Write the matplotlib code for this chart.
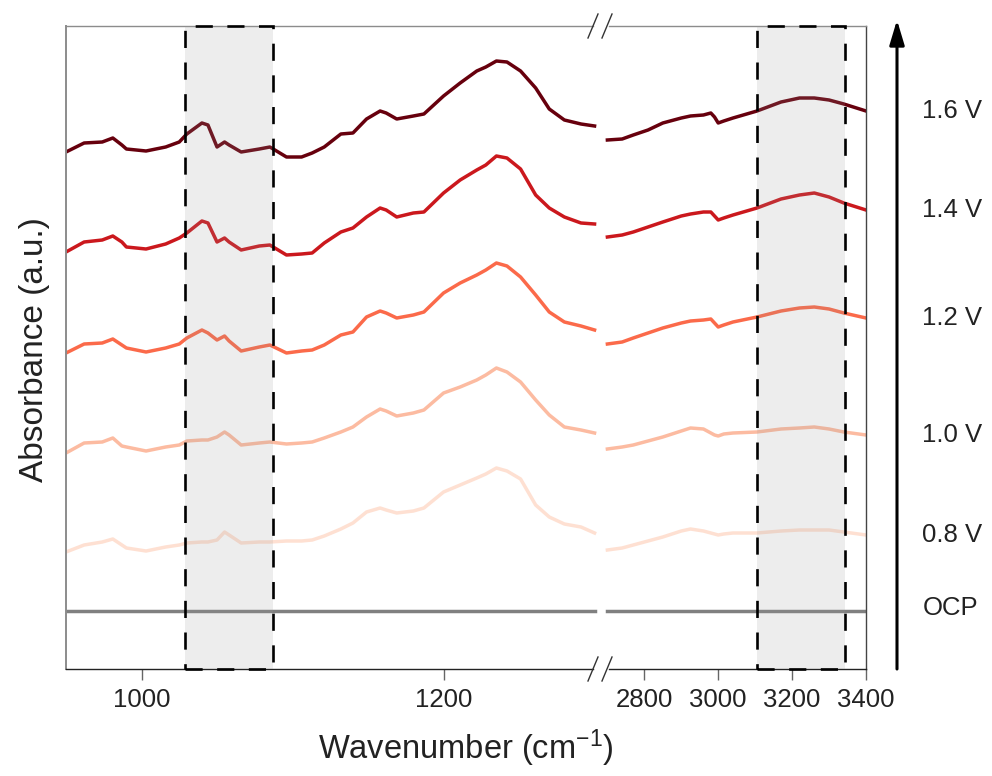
import matplotlib
matplotlib.use("Agg")
import matplotlib.pyplot as plt
import matplotlib.transforms as mtransforms
from matplotlib.patches import Rectangle, FancyArrowPatch
from matplotlib.lines import Line2D

plt.rcParams['font.family'] = ['Liberation Sans', 'DejaVu Sans']
plt.rcParams['mathtext.fontset'] = 'custom'
plt.rcParams['mathtext.rm'] = 'Liberation Sans'
plt.rcParams['mathtext.it'] = 'Liberation Sans:italic'

# ---- spectra (stacked, arbitrary absorbance units) ----
wn_low = [950, 962, 974, 981, 987, 990, 1003, 1016, 1025, 1030,
          1040, 1044, 1050, 1055, 1058, 1066, 1078, 1085, 1096, 1106,
          1113, 1121, 1132, 1140, 1149, 1158, 1162, 1169, 1180, 1187,
          1200, 1211, 1222, 1228, 1235, 1242, 1251, 1261, 1270, 1280,
          1291, 1300]
wn_high = [2700, 2740, 2770, 2810, 2850, 2900, 2925, 2960, 2980, 2990,
           3000, 3015, 3040, 3105, 3170, 3220, 3260, 3300, 3340, 3400]

labels = ['1.6 V', '1.4 V', '1.2 V', '1.0 V', '0.8 V']
colors = ['#67000d', '#cb181d', '#fb6a4a', '#fcbba1', '#fee0d2']

low_16 = [5.17, 5.26, 5.27, 5.31, 5.24, 5.20, 5.18, 5.22, 5.27, 5.35,
          5.46, 5.44, 5.22, 5.27, 5.24, 5.17, 5.20, 5.22, 5.12, 5.12,
          5.16, 5.22, 5.35, 5.36, 5.50, 5.58, 5.56, 5.50, 5.53, 5.55,
          5.73, 5.86, 5.98, 6.02, 6.08, 6.07, 5.98, 5.81, 5.60, 5.49,
          5.45, 5.43]
low_14 = [4.17, 4.27, 4.29, 4.33, 4.27, 4.22, 4.20, 4.25, 4.31, 4.36,
          4.48, 4.46, 4.27, 4.31, 4.27, 4.19, 4.23, 4.24, 4.14, 4.15,
          4.16, 4.26, 4.37, 4.41, 4.52, 4.61, 4.59, 4.52, 4.56, 4.57,
          4.76, 4.89, 4.99, 5.04, 5.13, 5.11, 5.00, 4.74, 4.61, 4.52,
          4.46, 4.45]
low_12 = [3.16, 3.25, 3.26, 3.30, 3.24, 3.21, 3.17, 3.21, 3.25, 3.31,
          3.39, 3.36, 3.29, 3.33, 3.28, 3.18, 3.22, 3.24, 3.16, 3.18,
          3.19, 3.24, 3.34, 3.37, 3.52, 3.58, 3.56, 3.51, 3.54, 3.57,
          3.76, 3.86, 3.94, 3.99, 4.06, 4.03, 3.92, 3.74, 3.57, 3.47,
          3.43, 3.39]
low_10 = [2.16, 2.26, 2.27, 2.31, 2.23, 2.22, 2.18, 2.22, 2.24, 2.28,
          2.29, 2.29, 2.32, 2.37, 2.34, 2.24, 2.26, 2.27, 2.25, 2.26,
          2.27, 2.31, 2.37, 2.42, 2.52, 2.60, 2.58, 2.53, 2.56, 2.59,
          2.76, 2.82, 2.89, 2.94, 3.01, 2.97, 2.87, 2.69, 2.54, 2.42,
          2.39, 2.36]
low_08 = [1.17, 1.24, 1.27, 1.30, 1.24, 1.21, 1.18, 1.22, 1.24, 1.26,
          1.27, 1.27, 1.29, 1.37, 1.34, 1.26, 1.27, 1.27, 1.28, 1.28,
          1.29, 1.33, 1.40, 1.46, 1.57, 1.61, 1.59, 1.56, 1.58, 1.61,
          1.77, 1.84, 1.91, 1.95, 2.01, 1.98, 1.90, 1.64, 1.52, 1.45,
          1.42, 1.36]

high_16 = [5.29, 5.30, 5.34, 5.39, 5.46, 5.51, 5.53, 5.54, 5.56, 5.52,
           5.46, 5.48, 5.51, 5.58, 5.67, 5.71, 5.71, 5.69, 5.65, 5.58]
high_14 = [4.32, 4.34, 4.37, 4.42, 4.47, 4.53, 4.55, 4.57, 4.57, 4.53,
           4.49, 4.51, 4.54, 4.61, 4.70, 4.74, 4.76, 4.72, 4.66, 4.59]
high_12 = [3.25, 3.27, 3.31, 3.36, 3.41, 3.46, 3.48, 3.49, 3.50, 3.46,
           3.42, 3.44, 3.47, 3.52, 3.58, 3.61, 3.62, 3.60, 3.56, 3.51]
high_10 = [2.20, 2.22, 2.24, 2.28, 2.32, 2.38, 2.41, 2.40, 2.36, 2.34,
           2.33, 2.35, 2.36, 2.37, 2.40, 2.41, 2.42, 2.40, 2.37, 2.34]
high_08 = [1.19, 1.21, 1.24, 1.28, 1.32, 1.38, 1.40, 1.38, 1.36, 1.35,
           1.34, 1.35, 1.36, 1.36, 1.38, 1.39, 1.39, 1.39, 1.37, 1.34]

ocp_level = 0.58
low_window = (1029, 1087)
high_window = (3106, 3344)

low_series = [low_16, low_14, low_12, low_10, low_08]
high_series = [high_16, high_14, high_12, high_10, high_08]

# ---- figure layout (two panels with a broken x axis) ----
W, H = 992, 776
fig = plt.figure(figsize=(W / 100, H / 100), dpi=100)


def box(x0, x1, ytop, ybot):
    return [x0 / W, 1 - ybot / H, (x1 - x0) / W, (ybot - ytop) / H]


ax1 = fig.add_axes(box(66, 600, 26, 669))
ax2 = fig.add_axes(box(600, 866, 26, 669))
ax1.set_xlim(950, 1303.6)
ax2.set_xlim(2680, 3400)
for ax in (ax1, ax2):
    ax.set_ylim(0, 6.43)
    ax.set_yticks([])
    ax.patch.set_alpha(0)

lw = 2.5
for ys, c in zip(low_series, colors):
    ax1.plot(wn_low, ys, color=c, lw=lw, solid_joinstyle='round', zorder=2)
for ys, c in zip(high_series, colors):
    ax2.plot(wn_high, ys, color=c, lw=lw, solid_joinstyle='round', zorder=2)
ax1.plot([wn_low[0], wn_low[-1]], [ocp_level, ocp_level], color='#808080', lw=lw, zorder=2)
ax2.plot([wn_high[0], wn_high[-1]], [ocp_level, ocp_level], color='#808080', lw=lw, zorder=2)

# highlighted windows
for ax, (lo, hi) in ((ax1, low_window), (ax2, high_window)):
    ax.axvspan(lo, hi, facecolor='#9a9a9a', alpha=0.17, lw=0, zorder=3)
    trans = mtransforms.blended_transform_factory(ax.transData, ax.transAxes)
    ax.add_patch(Rectangle((lo, 0), hi - lo, 1, transform=trans, fill=False,
                           ec='black', lw=1.9, ls=(0, (6.5, 5.5)),
                           clip_on=False, zorder=5))

# spines
ax1.spines['right'].set_visible(False)
ax2.spines['left'].set_visible(False)
for ax in (ax1, ax2):
    ax.spines['top'].set_color('#8c8c8c')
    ax.spines['top'].set_linewidth(1.0)
    ax.spines['bottom'].set_color('#222222')
    ax.spines['bottom'].set_linewidth(1.0)
ax1.spines['left'].set_color('#8c8c8c')
ax1.spines['left'].set_linewidth(1.4)
ax2.spines['right'].set_color('#444444')
ax2.spines['right'].set_linewidth(1.0)
ax1.spines['bottom'].set_bounds(950, 1299)
ax1.spines['top'].set_bounds(950, 1299)
ax2.spines['bottom'].set_bounds(2704, 3400)
ax2.spines['top'].set_bounds(2704, 3400)

ax1.set_xticks([1000, 1200])
ax2.set_xticks([2800, 3000, 3200, 3400])
for ax in (ax1, ax2):
    ax.tick_params(axis='x', direction='out', length=8, width=1.0,
                   color='#666666', pad=6, labelsize=18.5, labelcolor='#222222')
    ax.tick_params(axis='y', length=0)

# break marks
for yb in (26, 669):
    for x0, x1 in ((588, 598), (602, 612)):
        fig.add_artist(Line2D([x0 / W, x1 / W], [1 - (yb + 12) / H, 1 - (yb - 12) / H],
                              transform=fig.transFigure, color='#333333', lw=1.0))

# potential arrow
fig.add_artist(FancyArrowPatch(
    (897 / W, 1 - 669 / H), (897 / W, 1 - 20 / H), transform=fig.transFigure,
    arrowstyle='-|>,head_length=1.5,head_width=0.45', mutation_scale=10,
    lw=2.2, color='black', shrinkA=0, shrinkB=0))

# series labels next to the right-hand ends
lab_trans = mtransforms.blended_transform_factory(ax2.transAxes, ax2.transData)
for ys, lab in zip(high_series, labels):
    ax2.annotate(lab, xy=(1, ys[-1]), xycoords=lab_trans, xytext=(40.5, 0),
                 textcoords='offset points', ha='left', va='center',
                 fontsize=18.5, color='#222222', annotation_clip=False)
ax2.annotate('OCP', xy=(1, ocp_level), xycoords=lab_trans, xytext=(40.5, 2),
             textcoords='offset points', ha='left', va='center',
             fontsize=18.5, color='#222222', annotation_clip=False)

fig.text(35 / W, 1 - 350 / H, 'Absorbance (a.u.)', rotation=90, ha='center',
         va='center', fontsize=24, color='#222222')
fig.text(466 / W, 1 - 748 / H, 'Wavenumber (cm$^{\\mathregular{-1}}$)', ha='center',
         va='center', fontsize=23.5, color='#222222')

fig.savefig('out.png', dpi=100)
